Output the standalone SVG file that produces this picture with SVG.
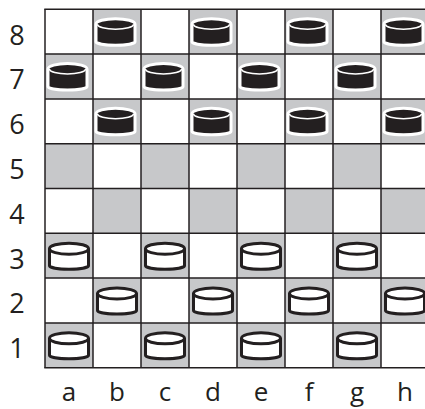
<svg xmlns="http://www.w3.org/2000/svg" xmlns:xlink="http://www.w3.org/1999/xlink" width="425" height="409" viewBox="0 0 425 409">
<style>
.dark{fill:#c7c8ca}
.grid line{stroke:#231f20;stroke-width:1.5}
.lbl{font-family:"Open Sans","Liberation Sans",sans-serif;font-size:27px;fill:#231f20;text-anchor:middle}
.flbl{font-size:26px}
.wbody{fill:#ffffff;stroke:#231f20;stroke-width:3;stroke-linejoin:round}
.wtop{fill:none;stroke:#231f20;stroke-width:3}
.bbody{fill:#231f20;stroke:#ffffff;stroke-width:3;stroke-linejoin:round}
.btop{fill:none;stroke:#ffffff;stroke-width:1.6}
</style>
<defs>
<g id="wp">
<path class="wbody" d="M-19.5,-7 A19.5,5.5 0 0 1 19.5,-7 V10 A19.5,3.5 0 0 1 -19.5,10 Z"/>
<path class="wtop" d="M-19.5,-7 A19.5,5.5 0 0 0 19.5,-7"/>
</g>
<g id="bp">
<path class="bbody" d="M-19.5,-7.5 A19.5,5.5 0 0 1 19.5,-7.5 V10 A19.5,3.5 0 0 1 -19.5,10 Z"/>
<path class="btop" d="M-18,-7.5 A18,5 0 0 0 18,-7.5"/>
</g>
</defs>
<rect width="425" height="409" fill="#ffffff"/>
<g id="board">
<g id="squares">
<rect class="dark" x="93" y="9.3" width="48" height="44.8"/><rect class="dark" x="189" y="9.3" width="48" height="44.8"/><rect class="dark" x="285" y="9.3" width="48" height="44.8"/><rect class="dark" x="381" y="9.3" width="48" height="44.8"/>
<rect class="dark" x="45" y="54.1" width="48" height="44.8"/><rect class="dark" x="141" y="54.1" width="48" height="44.8"/><rect class="dark" x="237" y="54.1" width="48" height="44.8"/><rect class="dark" x="333" y="54.1" width="48" height="44.8"/>
<rect class="dark" x="93" y="98.9" width="48" height="44.8"/><rect class="dark" x="189" y="98.9" width="48" height="44.8"/><rect class="dark" x="285" y="98.9" width="48" height="44.8"/><rect class="dark" x="381" y="98.9" width="48" height="44.8"/>
<rect class="dark" x="45" y="143.7" width="48" height="44.8"/><rect class="dark" x="141" y="143.7" width="48" height="44.8"/><rect class="dark" x="237" y="143.7" width="48" height="44.8"/><rect class="dark" x="333" y="143.7" width="48" height="44.8"/>
<rect class="dark" x="93" y="188.5" width="48" height="44.8"/><rect class="dark" x="189" y="188.5" width="48" height="44.8"/><rect class="dark" x="285" y="188.5" width="48" height="44.8"/><rect class="dark" x="381" y="188.5" width="48" height="44.8"/>
<rect class="dark" x="45" y="233.3" width="48" height="44.8"/><rect class="dark" x="141" y="233.3" width="48" height="44.8"/><rect class="dark" x="237" y="233.3" width="48" height="44.8"/><rect class="dark" x="333" y="233.3" width="48" height="44.8"/>
<rect class="dark" x="93" y="278.1" width="48" height="44.8"/><rect class="dark" x="189" y="278.1" width="48" height="44.8"/><rect class="dark" x="285" y="278.1" width="48" height="44.8"/><rect class="dark" x="381" y="278.1" width="48" height="44.8"/>
<rect class="dark" x="45" y="322.9" width="48" height="44.8"/><rect class="dark" x="141" y="322.9" width="48" height="44.8"/><rect class="dark" x="237" y="322.9" width="48" height="44.8"/><rect class="dark" x="333" y="322.9" width="48" height="44.8"/>
</g>
<g class="grid">
<line x1="45" y1="9.3" x2="45" y2="367.7"/><line x1="93" y1="9.3" x2="93" y2="367.7"/><line x1="141" y1="9.3" x2="141" y2="367.7"/><line x1="189" y1="9.3" x2="189" y2="367.7"/><line x1="237" y1="9.3" x2="237" y2="367.7"/><line x1="285" y1="9.3" x2="285" y2="367.7"/><line x1="333" y1="9.3" x2="333" y2="367.7"/><line x1="381" y1="9.3" x2="381" y2="367.7"/><line x1="429" y1="9.3" x2="429" y2="367.7"/>
<line x1="44.25" y1="9.3" x2="430" y2="9.3"/><line x1="45" y1="54.1" x2="430" y2="54.1"/><line x1="45" y1="98.9" x2="430" y2="98.9"/><line x1="45" y1="143.7" x2="430" y2="143.7"/><line x1="45" y1="188.5" x2="430" y2="188.5"/><line x1="45" y1="233.3" x2="430" y2="233.3"/><line x1="45" y1="278.1" x2="430" y2="278.1"/><line x1="45" y1="322.9" x2="430" y2="322.9"/><line x1="44.25" y1="367.7" x2="430" y2="367.7"/>
</g>
</g>
<g id="rank-labels" class="lbl">
<text x="17" y="44.5">8</text><text x="17" y="89.3">7</text><text x="17" y="134.1">6</text><text x="17" y="178.9">5</text><text x="17" y="223.7">4</text><text x="17" y="268.5">3</text><text x="17" y="313.3">2</text><text x="17" y="358.1">1</text>
</g>
<g id="file-labels" class="lbl flbl">
<text x="69" y="401">a</text><text x="117" y="401">b</text><text x="165" y="401">c</text><text x="213" y="401">d</text><text x="261" y="401">e</text><text x="309" y="401">f</text><text x="357" y="401">g</text><text x="405" y="401">h</text>
</g>
<g id="black-pieces">
<g id="b8"><use xlink:href="#bp" href="#bp" x="115.5" y="31.7"/></g>
<g id="d8"><use xlink:href="#bp" href="#bp" x="211.5" y="31.7"/></g>
<g id="f8"><use xlink:href="#bp" href="#bp" x="307.5" y="31.7"/></g>
<g id="h8"><use xlink:href="#bp" href="#bp" x="403.5" y="31.7"/></g>
<g id="a7"><use xlink:href="#bp" href="#bp" x="67.5" y="76.5"/></g>
<g id="c7"><use xlink:href="#bp" href="#bp" x="163.5" y="76.5"/></g>
<g id="e7"><use xlink:href="#bp" href="#bp" x="259.5" y="76.5"/></g>
<g id="g7"><use xlink:href="#bp" href="#bp" x="355.5" y="76.5"/></g>
<g id="b6"><use xlink:href="#bp" href="#bp" x="115.5" y="121.3"/></g>
<g id="d6"><use xlink:href="#bp" href="#bp" x="211.5" y="121.3"/></g>
<g id="f6"><use xlink:href="#bp" href="#bp" x="307.5" y="121.3"/></g>
<g id="h6"><use xlink:href="#bp" href="#bp" x="403.5" y="121.3"/></g>
</g>
<g id="white-pieces">
<g id="a3"><use xlink:href="#wp" href="#wp" x="69" y="255.7"/></g>
<g id="c3"><use xlink:href="#wp" href="#wp" x="165" y="255.7"/></g>
<g id="e3"><use xlink:href="#wp" href="#wp" x="261" y="255.7"/></g>
<g id="g3"><use xlink:href="#wp" href="#wp" x="357" y="255.7"/></g>
<g id="b2"><use xlink:href="#wp" href="#wp" x="117" y="300.5"/></g>
<g id="d2"><use xlink:href="#wp" href="#wp" x="213" y="300.5"/></g>
<g id="f2"><use xlink:href="#wp" href="#wp" x="309" y="300.5"/></g>
<g id="h2"><use xlink:href="#wp" href="#wp" x="405" y="300.5"/></g>
<g id="a1"><use xlink:href="#wp" href="#wp" x="69" y="345.3"/></g>
<g id="c1"><use xlink:href="#wp" href="#wp" x="165" y="345.3"/></g>
<g id="e1"><use xlink:href="#wp" href="#wp" x="261" y="345.3"/></g>
<g id="g1"><use xlink:href="#wp" href="#wp" x="357" y="345.3"/></g>
</g>
</svg>
